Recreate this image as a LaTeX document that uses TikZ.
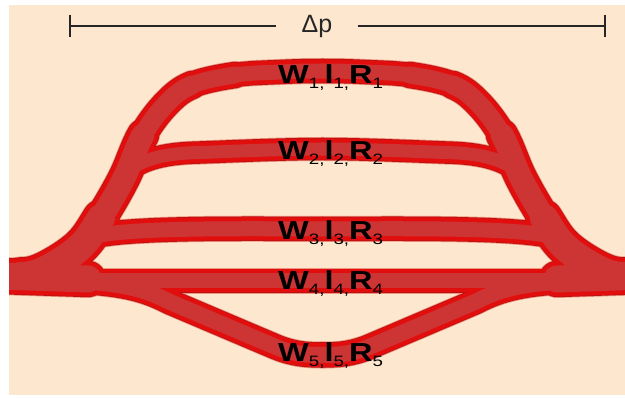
\documentclass[tikz,border=0pt]{standalone}
\usepackage{fontspec}
\setmainfont{Liberation Sans}

\definecolor{paper}{RGB}{253,231,207}
\definecolor{halo}{RGB}{236,150,130}
\definecolor{rim}{RGB}{185,18,18}
\definecolor{wall}{RGB}{226,14,14}
\definecolor{lumen}{RGB}{205,52,52}

% one half of the symmetric channel network; #1 is added to every nominal width
\newcommand\halfnet[1]{%
  % trunk
  \draw[line width=35pt#1] (0,276) -- (88,279);
  % outer branch, tapering from the trunk up into channel 1
  \draw[line width=36pt#1] (20,276) .. controls (28,276) and (35,274.8) .. (45,270)
        .. controls (55,265.2) and (70.7,255.7) .. (80,247)
        .. controls (89.3,238.3) and (93.7,229.5) .. (101,218);
  \draw[line width=31pt#1] (101,218) .. controls (108.3,206.5) and (117,191.8) .. (124,178)
        .. controls (131,164.2) and (135.8,147.5) .. (143,135);
  \draw[line width=27pt#1] (143,135) .. controls (150.2,122.5) and (158.8,111.3) .. (167,103)
        .. controls (175.2,94.7) and (180.7,89.7) .. (192,85);
  \draw[line width=25pt#1] (192,85) .. controls (203.3,80.3) and (220.3,77.2) .. (235,75);
  % channel 1
  \draw[line width=23pt#1] (235,75) .. controls (249.7,72.8) and (265.5,72.7) .. (280,72)
        .. controls (294.5,71.3) and (308,71) .. (322.5,71);
  % channel 2
  \draw[line width=21pt#1] (132,168) .. controls (150,156) and (175,153) .. (200,152.5)
        .. controls (240,151) and (285,149) .. (322.5,149);
  % channel 3
  \draw[line width=23pt#1] (100,235) .. controls (140,228) and (230,228.5) .. (322.5,229);
  % channel 4
  \draw[line width=23pt#1] (30,281) -- (322.5,281);
  % channel 5
  \draw[line width=24pt#1] (70,281) .. controls (130,283) and (150,292) .. (170,302)
        -- (275,346.6) .. controls (293,354.2) and (308,355) .. (322.5,355);
}
% both halves, mirrored about x = 322.5
\newcommand\vesselnet[1]{%
  \halfnet{#1}%
  \begin{scope}[shift={(645,0)}, xscale=-1]\halfnet{#1}\end{scope}%
}

\newcommand\sbs[1]{\raisebox{-5pt}{\fontsize{15}{15}\selectfont #1}}
\newcommand\wlr[1]{\scalebox{1.25}[1]{{\bfseries W}\sbs{#1,}{\bfseries l}\sbs{#1,}{\bfseries R}\sbs{#1}}}

\begin{document}
\begin{tikzpicture}[x=1pt,y=-1pt,
    label text/.style={anchor=base west, inner sep=0pt, font=\fontsize{26}{26}\selectfont, text=black},
    bar/.style={line width=1.3pt, draw=black!85}]
  \useasboundingbox (0,0) rectangle (625,398);
  \fill[white] (0,0) rectangle (625,398);
  \fill[paper] (9,5) rectangle (625,395);

  \begin{scope}
    \clip (9,5) rectangle (625,395);
    \begin{scope}[color=halo, line cap=round] \vesselnet{+3pt} \end{scope}
    \begin{scope}[color=rim, line cap=round] \vesselnet{+1.5pt} \end{scope}
    \begin{scope}[color=wall, line cap=round] \vesselnet{} \end{scope}
    \begin{scope}[color=lumen, line cap=round] \vesselnet{-8pt} \end{scope}
  \end{scope}

  % pressure drop bar
  \coordinate (barL) at (70,26);
  \coordinate (barR) at (605,26);
  \node[font=\fontsize{25}{25}\selectfont, text=black!85, inner xsep=25pt, inner ysep=0pt] (dp) at (317,26) {Δp};
  \draw[bar] (barL) -- (dp.west);
  \draw[bar] (dp.east) -- (barR);
  \draw[bar] ([yshift=11pt]barL) -- ([yshift=-11pt]barL);
  \draw[bar] ([yshift=11pt]barR) -- ([yshift=-11pt]barR);

  % channel labels
  \node[label text] (lab1) at (278,84) {\wlr{1}};
  \node[label text] (lab2) at (278,160) {\wlr{2}};
  \node[label text] (lab3) at (278,240) {\wlr{3}};
  \node[label text] (lab4) at (278,290) {\wlr{4}};
  \node[label text] (lab5) at (278,362) {\wlr{5}};
\end{tikzpicture}
\end{document}
